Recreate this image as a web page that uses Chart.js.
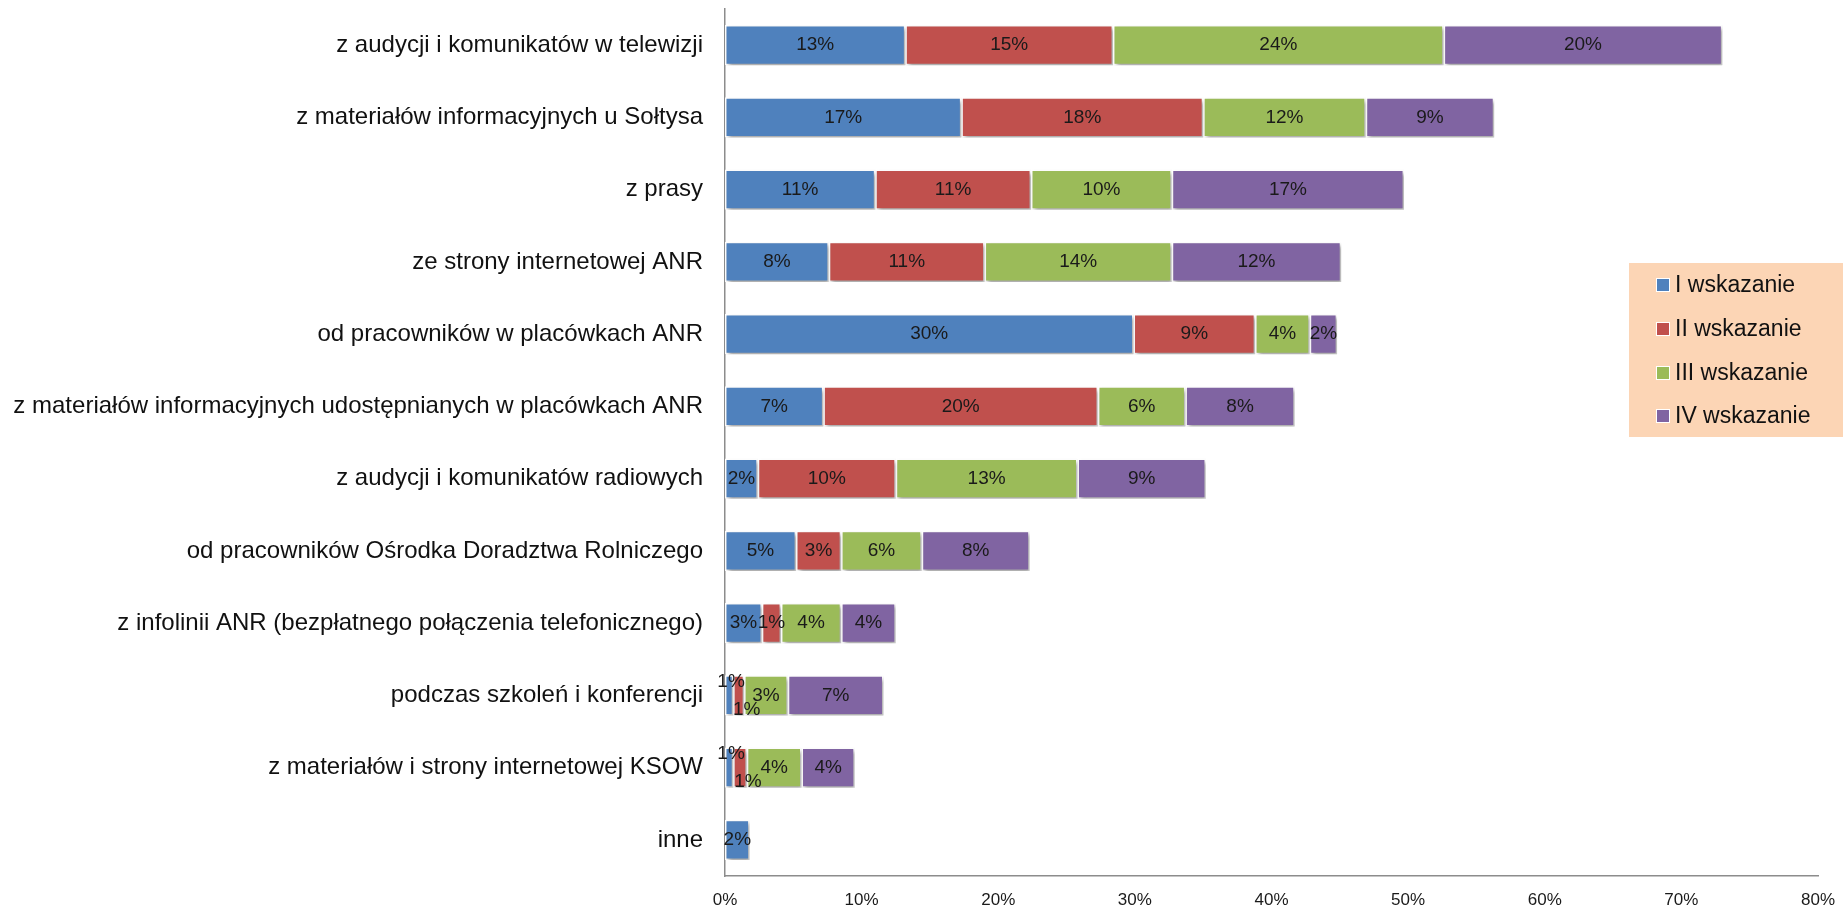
<!DOCTYPE html>
<html lang="pl">
<head>
<meta charset="UTF-8">
<title>Źródła informacji</title>
<script src="https://cdn.jsdelivr.net/npm/chart.js"></script>
<style>
    body { margin: 0; background: #fff; }
    #wrap { position: relative; width: 1843px; height: 910px; }
</style>
</head>
<body>
<div id="wrap"><canvas id="chart"></canvas></div>
<script>
const categories = [
    "z audycji i komunikatów w telewizji",
    "z materiałów informacyjnych u Sołtysa",
    "z prasy",
    "ze strony internetowej ANR",
    "od pracowników w placówkach ANR",
    "z materiałów informacyjnych udostępnianych w placówkach ANR",
    "z audycji i komunikatów radiowych",
    "od pracowników Ośrodka Doradztwa Rolniczego",
    "z infolinii ANR (bezpłatnego połączenia telefonicznego)",
    "podczas szkoleń i konferencji",
    "z materiałów i strony internetowej KSOW",
    "inne"
];
const seriesNames = ["I wskazanie", "II wskazanie", "III wskazanie", "IV wskazanie"];
const seriesColors = ["#4F81BD", "#C0504D", "#9BBB59", "#8064A2"];

const wsk1 = [13.2, 17.3, 11.0, 7.6, 29.9, 7.2, 2.4, 5.2, 2.7, 0.6, 0.6, 1.8];
const wsk2 = [15.2, 17.7, 11.4, 11.4, 8.9, 20.1, 10.1, 3.3, 1.4, 0.8, 1.0, 0];
const wsk3 = [24.2, 11.9, 10.3, 13.7, 4.0, 6.4, 13.3, 5.9, 4.4, 3.2, 4.0, 0];
const wsk4 = [20.4, 9.4, 17.0, 12.4, 2.0, 8.0, 9.4, 7.9, 4.0, 7.0, 3.9, 0];

const xTicks = [0, 10, 20, 30, 40, 50, 60, 70, 80];

const allSeries = [wsk1, wsk2, wsk3, wsk4];

// cień pod słupkami jak w Excelu
const shadowPlugin = {
    id: "shadow",
    beforeDatasetsDraw(chart) {
        const ctx = chart.ctx;
        ctx.save();
        ctx.shadowColor = "rgba(0,0,0,0.35)";
        ctx.shadowBlur = 4;
        ctx.shadowOffsetX = 2;
        ctx.shadowOffsetY = 3;
    },
    afterDatasetsDraw(chart) {
        chart.ctx.restore();
    }
};

// etykiety wartości w środku segmentów
const labelPlugin = {
    id: "valueLabels",
    afterDatasetsDraw(chart) {
        const ctx = chart.ctx;
        ctx.save();
        ctx.font = "19px 'Liberation Sans', Arial, sans-serif";
        ctx.fillStyle = "#1a1a1a";
        ctx.textAlign = "center";
        ctx.textBaseline = "middle";
        chart.data.datasets.forEach((ds, di) => {
            const meta = chart.getDatasetMeta(di);
            meta.data.forEach((bar, i) => {
                const v = ds.data[i];
                if (!v) return;
                let x = (bar.x + bar.base) / 2;
                let y = bar.y;
                if (v < 1.2 && di === 0) { y -= 14; x += 2; }
                if (v < 1.2 && di === 1) { y += 14; x += 8; }
                ctx.fillText(Math.round(v) + "%", x, y);
            });
        });
        ctx.restore();
    }
};

// legenda na tle brzoskwiniowym
const legendPlugin = {
    id: "boxLegend",
    afterDraw(chart) {
        const ctx = chart.ctx;
        ctx.save();
        ctx.fillStyle = "#FCD5B5";
        ctx.fillRect(1629, 263, 214, 174);
        ctx.font = "23px 'Liberation Sans', Arial, sans-serif";
        ctx.textBaseline = "middle";
        ctx.textAlign = "left";
        const ys = [285, 329, 373, 416];
        chart.data.datasets.forEach((ds, i) => {
            ctx.fillStyle = "#fff";
            ctx.fillRect(1656, ys[i] - 7, 14, 14);
            ctx.fillStyle = ds.backgroundColor;
            ctx.fillRect(1657, ys[i] - 6, 12, 12);
            ctx.fillStyle = "#111";
            ctx.fillText(ds.label, 1675, ys[i] + 1);
        });
        ctx.restore();
    }
};

new Chart(document.getElementById("chart"), {
    type: "bar",
    data: {
        labels: categories,
        datasets: allSeries.map((d, i) => ({
            label: seriesNames[i],
            data: d,
            backgroundColor: seriesColors[i],
            borderColor: "#ffffff",
            borderWidth: 1.5,
            borderSkipped: false,
            barPercentage: 0.56,
            categoryPercentage: 1
        }))
    },
    options: {
        indexAxis: "y",
        responsive: true,
        maintainAspectRatio: false,
        animation: false,
        layout: { padding: { top: 9, right: 25, left: 0, bottom: 0 } },
        plugins: {
            legend: { display: false },
            tooltip: { enabled: false }
        },
        scales: {
            x: {
                stacked: true,
                min: 0,
                max: 80,
                afterBuildTicks: s => { s.ticks = xTicks.map(v => ({ value: v })); },
                afterFit: s => { s.height = 34; s.paddingLeft = 0; s.paddingRight = 0; },
                grid: { display: false },
                border: { display: true, color: "#8c8c8c", width: 1.5 },
                ticks: {
                    padding: 6,
                    color: "#1a1a1a",
                    font: { family: "'Liberation Sans Narrow', 'Liberation Sans', Arial", size: 17 },
                    callback: v => v + "%"
                }
            },
            y: {
                stacked: true,
                afterFit: s => { s.width = 725; s.paddingTop = 0; s.paddingBottom = 0; },
                grid: { display: false },
                border: { display: true, color: "#8c8c8c", width: 1.5 },
                ticks: {
                    padding: 14,
                    color: "#111",
                    font: { family: "'Liberation Sans', Arial", size: 24 }
                }
            }
        }
    },
    plugins: [shadowPlugin, labelPlugin, legendPlugin]
});
</script>
</body>
</html>
